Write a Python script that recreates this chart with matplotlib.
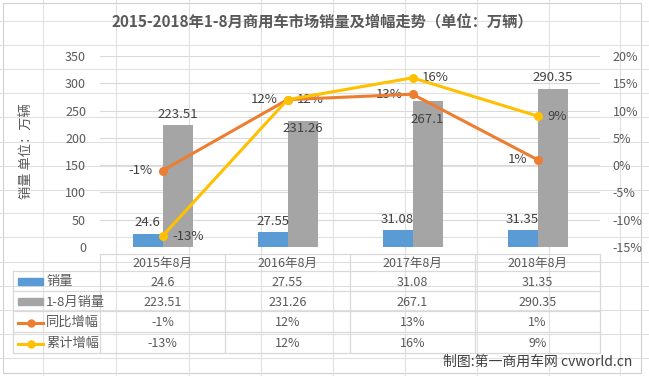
import matplotlib.pyplot as plt
from matplotlib.patches import Rectangle
import numpy as np

plt.rcParams['font.family'] = ['Liberation Sans Narrow', 'Noto Sans CJK SC', 'DejaVu Sans']

# data
categories = ['2015年8月', '2016年8月', '2017年8月', '2018年8月']
sales_aug = [24.6, 27.55, 31.08, 31.35]
sales_ytd = [223.51, 231.26, 267.1, 290.35]
growth_yoy = [-1, 12, 13, 1]
growth_ytd = [-13, 12, 16, 9]
series_names = ['销量', '1-8月销量', '同比增幅', '累计增幅']

c_blue = '#5B9BD5'
c_grey = '#A5A5A5'
c_orange = '#ED7D31'
c_yellow = '#FFC000'
c_text = '#595959'
c_grid = '#D9D9D9'

W, H = 649, 376
fig = plt.figure(figsize=(W / 100, H / 100), dpi=100)

# background spreadsheet + chart frame
bg = fig.add_axes([0, 0, 1, 1], zorder=-10)
bg.set_xlim(0, W)
bg.set_ylim(H, 0)
bg.axis('off')
for xv in [43, 116, 189, 261, 333, 405, 477, 549, 620]:
    bg.axvline(xv, color='#E0E0E0', lw=0.8)
for yv in [21, 45, 69, 93, 117, 142, 166, 190, 213, 237, 262, 286, 310, 334, 358]:
    bg.axhline(yv, color='#E0E0E0', lw=0.8)
bg.add_patch(Rectangle((3, 3), 638, 370, facecolor='white', edgecolor='#D0D0D0', lw=0.8))


def fig_rect(x0, y0, x1, y1):
    return [x0 / W, 1 - y1 / H, (x1 - x0) / W, (y1 - y0) / H]


ax = fig.add_axes(fig_rect(100, 56, 600, 247))
ax2 = ax.twinx()
ax.set_zorder(1)
ax2.set_zorder(2)
ax.patch.set_visible(False)

x = np.arange(len(categories))
bw = 0.24
ax.bar(x - bw / 2, sales_aug, bw, color=c_blue, zorder=3)
ax.bar(x + bw / 2, sales_ytd, bw, color=c_grey, zorder=3)
ax.set_xlim(-0.5, 3.5)
ax.set_ylim(0, 350)
ax.set_yticks(range(0, 351, 50))
ax.grid(axis='y', color=c_grid, lw=0.8, zorder=0)
ax.set_xticks([])
for s in ax.spines.values():
    s.set_visible(False)
for s in ax2.spines.values():
    s.set_visible(False)
ax.tick_params(axis='y', length=0, pad=10, labelsize=9, labelcolor=c_text)

for i, v in enumerate(sales_aug):
    ax.annotate(f'{v:g}', (x[i] - bw / 2, v), xytext=(0, 3), textcoords='offset points',
                ha='center', va='bottom', fontsize=9.5, color='#404040', zorder=5)
ytd_offsets = [3, -10, -18, 3]
for i, v in enumerate(sales_ytd):
    ax.annotate(f'{v:g}', (x[i] + bw / 2, v), xytext=(0, ytd_offsets[i]), textcoords='offset points',
                ha='center', va='bottom', fontsize=9.5, color='#404040', zorder=5)

ax2.set_ylim(-15, 20)
ax2.set_yticks(range(-15, 21, 5))
ax2.set_yticklabels([f'{t}%' for t in range(-15, 21, 5)])
ax2.tick_params(axis='y', length=0, pad=9, labelsize=9, labelcolor=c_text)
ax2.plot(x, growth_yoy, color=c_orange, lw=2.2, marker='o', ms=5.5, zorder=4)
ax2.plot(x, growth_ytd, color=c_yellow, lw=2.2, marker='o', ms=5.5, zorder=4)
for i, v in enumerate(growth_yoy):
    ax2.annotate(f'{v}%', (x[i], v), xytext=(-7, 0), textcoords='offset points',
                 ha='right', va='center', fontsize=9.5, color='#404040')
for i, v in enumerate(growth_ytd):
    ax2.annotate(f'{v}%', (x[i], v), xytext=(7, 0), textcoords='offset points',
                 ha='left', va='center', fontsize=9.5, color='#404040')

ax.set_ylabel('销量 单位：万辆', fontsize=9.5, color=c_text)
ax.yaxis.set_label_coords(-0.135, 0.5)

fig.text(322 / W, 1 - 22 / H, '2015-2018年1-8月商用车市场销量及增幅走势（单位：万辆）',
         ha='center', va='center', fontsize=11, fontweight='bold', color=c_text)

# data table
tb = fig.add_axes([0, 0, 1, 1], zorder=3)
tb.set_xlim(0, W)
tb.set_ylim(H, 0)
tb.axis('off')
col_x = [100, 225, 350, 475, 600]
row_y = [254, 271, 291, 311, 332, 353]
lc = '#D9D9D9'
tb.plot([100, 600], [row_y[0], row_y[0]], color=lc, lw=0.9)
for yv in row_y[1:]:
    tb.plot([13, 600], [yv, yv], color=lc, lw=0.9)
tb.plot([13, 13], [row_y[1], row_y[-1]], color=lc, lw=0.9)
for xv in col_x:
    tb.plot([xv, xv], [row_y[0], row_y[-1]], color=lc, lw=0.9)

for j, c in enumerate(categories):
    tb.text((col_x[j] + col_x[j + 1]) / 2, (row_y[0] + row_y[1]) / 2 + 1, c,
            ha='center', va='center', fontsize=9, color=c_text)

rows = [
    [f'{v:g}' for v in sales_aug],
    [f'{v:g}' for v in sales_ytd],
    [f'{v}%' for v in growth_yoy],
    [f'{v}%' for v in growth_ytd],
]
for r, vals in enumerate(rows):
    yc = (row_y[r + 1] + row_y[r + 2]) / 2 + 1
    for j, t in enumerate(vals):
        tb.text((col_x[j] + col_x[j + 1]) / 2, yc, t, ha='center', va='center',
                fontsize=9, color=c_text)
    tb.text(46, yc, series_names[r], ha='left', va='center', fontsize=9.5, color=c_text)
    if r < 2:
        tb.add_patch(Rectangle((18, yc - 4), 25, 7, color=[c_blue, c_grey][r]))
    else:
        col = [c_orange, c_yellow][r - 2]
        tb.plot([18, 43], [yc, yc], color=col, lw=2.2)
        tb.plot([30.5], [yc], marker='o', color=col, ms=5)

fig.text(632 / W, 1 - 362 / H, '制图:第一商用车网 cvworld.cn', ha='right', va='center',
         fontsize=10, color='#404040')

fig.savefig('out.png', dpi=100)
